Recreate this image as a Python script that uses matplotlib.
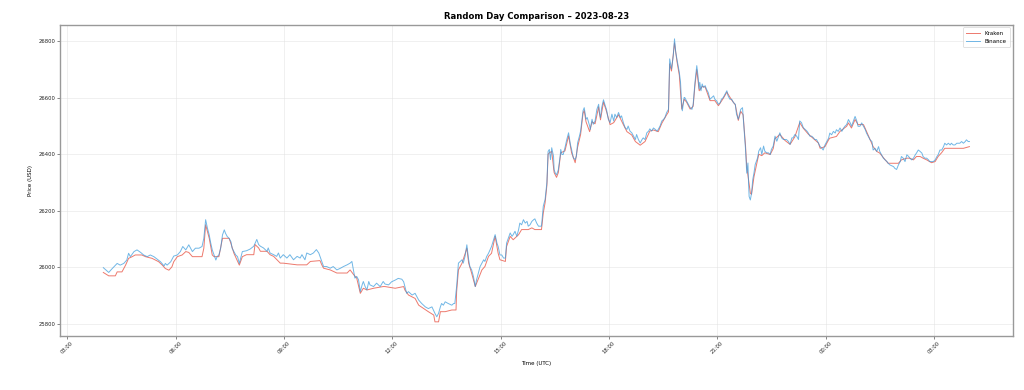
import matplotlib
matplotlib.use("Agg")
import matplotlib.pyplot as plt
import matplotlib.dates as mdates
import pandas as pd

title = "Random Day Comparison \u2013 2023-08-23"
start = "2023-08-23 04:00"
series_names = ["Kraken", "Binance"]

# (minutes after start, price in USD)
binance_points = [
    (0, 25998), (9, 25981), (14, 25993), (23, 26013), (28, 26007), (34, 26013), (39, 26025), (42, 26049),
    (45, 26037), (51, 26055), (56, 26061), (62, 26052), (67, 26043), (73, 26037), (78, 26043), (84, 26037),
    (89, 26029), (95, 26019), (101, 26004), (103, 26013), (106, 26007), (112, 26019), (117, 26039), (123, 26043),
    (128, 26055), (132, 26073), (137, 26061), (142, 26079), (148, 26055), (153, 26067), (159, 26067), (164, 26073),
    (167, 26102), (170, 26168), (173, 26138), (176, 26114), (178, 26090), (181, 26061), (184, 26043), (187, 26025),
    (189, 26037), (192, 26043), (195, 26067), (198, 26114), (201, 26132), (203, 26120), (206, 26108), (209, 26102),
    (212, 26090), (214, 26067), (217, 26055), (220, 26043), (223, 26037), (226, 26013), (231, 26055),
    (238, 26058), (244, 26064), (250, 26074), (255, 26098), (258, 26080), (261, 26074), (266, 26068), (272, 26056),
    (274, 26068), (277, 26050), (283, 26044), (288, 26038), (291, 26050), (294, 26032), (299, 26044), (305, 26032),
    (310, 26044), (316, 26026), (322, 26038), (327, 26032), (330, 26044), (335, 26026), (338, 26050), (344, 26044),
    (349, 26050), (354, 26062), (358, 26050), (360, 26038), (363, 26020), (366, 26002), (371, 26002), (377, 25996),
    (382, 26002), (388, 25990), (394, 25996), (399, 26002), (405, 26008), (410, 26014), (413, 26020), (416, 25985),
    (418, 25961), (421, 25967), (424, 25955), (427, 25913), (430, 25937), (432, 25949), (435, 25931), (438, 25919),
    (441, 25949), (443, 25937), (449, 25931), (454, 25943), (460, 25931), (465, 25949),
    (468, 25940), (474, 25937), (479, 25948), (485, 25954), (490, 25960), (496, 25957), (499, 25948), (501, 25931),
    (504, 25907), (507, 25913), (513, 25901), (518, 25907), (524, 25883), (529, 25871), (535, 25859), (540, 25853),
    (546, 25859), (551, 25836), (554, 25824), (557, 25836), (560, 25859), (562, 25871), (565, 25865), (568, 25877),
    (573, 25871), (579, 25865), (582, 25871), (584, 25871), (587, 25931), (590, 26014), (593, 26020), (596, 26026),
    (598, 26014), (601, 26038), (604, 26079), (607, 26026), (609, 26002), (612, 25990), (615, 25966), (618, 25931),
    (620, 25954), (623, 25978), (626, 26002), (629, 26014), (632, 26026), (634, 26020), (637, 26038), (640, 26049),
    (645, 26073), (651, 26115), (654, 26085), (656, 26073), (659, 26043), (662, 26043), (665, 26032), (668, 26032),
    (670, 26085), (673, 26103), (676, 26121), (679, 26109), (681, 26115), (684, 26127), (687, 26109), (690, 26133),
    (692, 26156), (695, 26150), (698, 26168), (701, 26156), (704, 26162), (706, 26145), (709, 26150), (712, 26162),
    (715, 26168), (717, 26171), (720, 26156), (723, 26145), (726, 26145), (728, 26145), (731, 26216), (734, 26240),
    (737, 26300), (739, 26410),
    (741, 26417), (743, 26381), (745, 26423), (748, 26393), (749, 26345), (751, 26333), (753, 26327), (756, 26345),
    (759, 26393), (760, 26417), (762, 26399), (764, 26399), (767, 26423), (770, 26452), (773, 26476), (776, 26435),
    (778, 26417), (781, 26387), (784, 26381), (786, 26393), (788, 26440), (791, 26464), (793, 26482), (797, 26554),
    (799, 26565), (802, 26524), (804, 26530), (808, 26500), (809, 26488), (812, 26524), (814, 26506), (817, 26518),
    (820, 26559), (823, 26577), (824, 26548), (826, 26530), (828, 26565), (831, 26593), (834, 26571), (836, 26559),
    (839, 26524), (842, 26512), (845, 26542), (848, 26518), (850, 26542), (853, 26530), (856, 26548), (859, 26530),
    (861, 26536), (864, 26512), (867, 26494), (870, 26488), (872, 26500), (875, 26482), (878, 26476), (881, 26464),
    (884, 26452), (886, 26470), (889, 26452), (892, 26440), (895, 26452), (897, 26458), (900, 26452), (903, 26476),
    (906, 26482), (908, 26490), (911, 26482), (914, 26493), (917, 26488), (920, 26482), (922, 26488), (925, 26500),
    (928, 26518), (931, 26524), (933, 26530), (936, 26548), (939, 26559), (941, 26738), (943, 26714), (944, 26702),
    (947, 26750), (949, 26809), (951, 26762), (953, 26738), (954, 26726), (957, 26690), (959, 26655), (961, 26571),
    (962, 26554), (965, 26601),
    (966, 26601), (969, 26589), (972, 26577), (975, 26565), (978, 26559), (980, 26577), (983, 26655), (986, 26714),
    (988, 26678), (990, 26631), (991, 26655), (993, 26625), (995, 26649), (997, 26637), (1000, 26643), (1002, 26631),
    (1005, 26619), (1008, 26595), (1011, 26601), (1014, 26607), (1016, 26595), (1019, 26589), (1022, 26577), (1025, 26583),
    (1027, 26595), (1030, 26601), (1033, 26613), (1036, 26625), (1038, 26607), (1041, 26595), (1044, 26595), (1047, 26583),
    (1050, 26577), (1052, 26542), (1055, 26524), (1057, 26542), (1059, 26559), (1062, 26565), (1063, 26536), (1065, 26476),
    (1067, 26417), (1069, 26333), (1071, 26369), (1072, 26298), (1073, 26250), (1075, 26238), (1077, 26262), (1079, 26310),
    (1081, 26333), (1083, 26363), (1085, 26375), (1087, 26387), (1089, 26411), (1092, 26423), (1094, 26399), (1097, 26429),
    (1099, 26411), (1102, 26405), (1105, 26405), (1108, 26399), (1110, 26417), (1113, 26429), (1116, 26464), (1119, 26446),
    (1122, 26464), (1124, 26476), (1127, 26458), (1130, 26452), (1133, 26452), (1135, 26452), (1138, 26446), (1141, 26435),
    (1144, 26458), (1146, 26458), (1149, 26470), (1152, 26464), (1155, 26452), (1157, 26518), (1160, 26512), (1163, 26494),
    (1166, 26488), (1169, 26482), (1171, 26476), (1174, 26464), (1177, 26464), (1180, 26458), (1182, 26452), (1185, 26452),
    (1188, 26440),
    (1191, 26427), (1194, 26421), (1196, 26415), (1199, 26433), (1202, 26445), (1205, 26457), (1207, 26475), (1210, 26469),
    (1213, 26481), (1216, 26475), (1218, 26487), (1221, 26481), (1224, 26493), (1227, 26481), (1230, 26493), (1232, 26499),
    (1235, 26505), (1238, 26523), (1241, 26511), (1243, 26499), (1246, 26517), (1249, 26534), (1252, 26517), (1254, 26499),
    (1257, 26499), (1260, 26511), (1263, 26499), (1266, 26487), (1268, 26475), (1271, 26463), (1274, 26451), (1277, 26445),
    (1279, 26415), (1282, 26421), (1285, 26410), (1288, 26427), (1290, 26410), (1293, 26398), (1296, 26386), (1299, 26380),
    (1302, 26374), (1304, 26368), (1307, 26362), (1313, 26356), (1315, 26350), (1318, 26346), (1321, 26362), (1324, 26374),
    (1326, 26392), (1329, 26386), (1332, 26374), (1335, 26398), (1338, 26392), (1340, 26386), (1343, 26380), (1346, 26386),
    (1349, 26398), (1351, 26404), (1354, 26415), (1357, 26410), (1360, 26404), (1362, 26392), (1365, 26386), (1368, 26386),
    (1371, 26380), (1373, 26374), (1376, 26374), (1379, 26374), (1382, 26380), (1385, 26392), (1387, 26398), (1390, 26415),
    (1393, 26415), (1396, 26427), (1398, 26439), (1401, 26433), (1404, 26439), (1407, 26433), (1409, 26439), (1412, 26433),
    (1415, 26433), (1418, 26439), (1421, 26439), (1423, 26439), (1426, 26445), (1429, 26439), (1432, 26445), (1434, 26451),
    (1437, 26445), (1439, 26445),
]

kraken_points = [
    (0, 25981), (9, 25969), (20, 25969), (23, 25983), (31, 25983), (37, 26007), (42, 26031), (48, 26037),
    (53, 26043), (64, 26043), (70, 26037), (81, 26031), (92, 26019), (98, 26007), (103, 25995), (109, 25989),
    (114, 26001), (117, 26019), (123, 26037), (131, 26043), (137, 26055), (142, 26052), (148, 26037), (164, 26037),
    (167, 26067), (170, 26150), (176, 26102), (181, 26043), (184, 26037), (192, 26037), (198, 26102), (209, 26102),
    (212, 26084), (217, 26049), (226, 26007), (231, 26037),
    (238, 26044), (250, 26044), (252, 26080), (258, 26068), (261, 26056), (272, 26056), (277, 26044), (283, 26038),
    (294, 26014), (299, 26014), (322, 26008), (338, 26008), (344, 26020), (360, 26023), (363, 26008), (366, 25996),
    (377, 25990), (388, 25979), (405, 25979), (410, 25990), (416, 25973), (421, 25961), (427, 25907), (432, 25925),
    (438, 25919), (449, 25925), (465, 25931),
    (468, 25931), (485, 25925), (499, 25931), (501, 25919), (507, 25901), (518, 25889), (524, 25865), (540, 25842),
    (549, 25830), (551, 25806), (557, 25806), (560, 25842), (568, 25842), (579, 25848), (586, 25848), (587, 25913),
    (590, 25990), (596, 26014), (604, 26067), (607, 26014), (612, 25978), (618, 25931), (629, 25990), (634, 26002),
    (640, 26038), (645, 26049), (651, 26109), (656, 26049), (659, 26026), (668, 26020), (670, 26073), (676, 26109),
    (681, 26097), (690, 26115), (695, 26133), (706, 26133), (712, 26139), (717, 26133), (728, 26133), (731, 26192),
    (734, 26228), (737, 26290), (739, 26400),
    (741, 26405), (745, 26410), (749, 26335), (753, 26318), (756, 26335), (760, 26405), (767, 26412), (773, 26465),
    (778, 26405), (784, 26370), (788, 26425), (793, 26470), (797, 26545), (799, 26555), (802, 26515), (808, 26480),
    (812, 26515), (817, 26508), (823, 26568), (826, 26522), (831, 26585), (836, 26552), (842, 26505), (848, 26512),
    (856, 26540), (864, 26505), (870, 26480), (878, 26468), (884, 26445), (892, 26432), (900, 26445), (908, 26482),
    (914, 26486), (922, 26480), (928, 26510), (936, 26540), (939, 26550), (941, 26720), (944, 26695), (949, 26795),
    (953, 26730), (957, 26680), (961, 26560), (965, 26595),
    (969, 26585), (975, 26560), (980, 26570), (983, 26645), (986, 26700), (990, 26625), (995, 26640), (1000, 26638),
    (1008, 26590), (1016, 26590), (1022, 26572), (1030, 26598), (1036, 26620), (1044, 26592), (1050, 26575), (1055, 26520),
    (1059, 26552), (1063, 26540), (1067, 26430), (1069, 26355), (1072, 26310), (1075, 26262), (1077, 26258), (1081, 26320),
    (1085, 26360), (1089, 26400), (1094, 26395), (1099, 26405), (1108, 26399), (1113, 26420), (1116, 26455), (1124, 26470),
    (1133, 26448), (1141, 26435), (1149, 26462), (1157, 26512), (1163, 26492), (1171, 26472), (1180, 26455), (1188, 26440),
    (1191, 26421), (1199, 26427), (1205, 26451), (1207, 26457), (1218, 26463), (1224, 26481), (1235, 26499), (1238, 26511),
    (1243, 26493), (1249, 26523), (1254, 26505), (1263, 26505), (1268, 26481), (1274, 26451), (1279, 26427), (1285, 26410),
    (1290, 26404), (1299, 26380), (1304, 26368), (1307, 26368), (1321, 26368), (1326, 26380), (1335, 26386), (1340, 26386),
    (1346, 26380), (1351, 26392), (1357, 26392), (1362, 26386), (1368, 26380), (1376, 26370), (1382, 26374), (1387, 26392),
    (1393, 26406), (1398, 26421), (1429, 26421), (1439, 26427),
]

t0 = pd.Timestamp(start)
b_t = [t0 + pd.Timedelta(minutes=m) for m, _ in binance_points]
b_p = [p for _, p in binance_points]
k_t = [t0 + pd.Timedelta(minutes=m) for m, _ in kraken_points]
k_p = [p for _, p in kraken_points]

fig = plt.figure(figsize=(10.24, 3.9), dpi=100)
ax = fig.add_axes([0.0586, 0.1385, 0.9304, 0.7982])

ax.plot(k_t, k_p, color="#e74c3c", alpha=0.75, lw=0.7, label=series_names[0])
ax.plot(b_t, b_p, color="#3498db", alpha=0.7, lw=0.7, label=series_names[1])

ax.set_title(title, fontsize=6.1, fontweight="bold", pad=4)
ax.set_xlabel("Time (UTC)", fontsize=4)
ax.set_ylabel("Price (USD)", fontsize=4)

ax.xaxis.set_major_locator(mdates.HourLocator(byhour=range(0, 24, 3)))
ax.xaxis.set_major_formatter(mdates.DateFormatter("%H:%M"))
ax.tick_params(axis="both", labelsize=3.8, length=2, width=0.5, colors="#555555", labelcolor="#222222", pad=1.5)
for lab in ax.get_xticklabels():
    lab.set_rotation(45)
ax.grid(True, color="#dddddd", lw=0.5, alpha=0.6)
for s in ax.spines.values():
    s.set_color("#999999")
    s.set_linewidth(1.0)

leg = ax.legend(loc="upper right", fontsize=4, frameon=True, borderpad=0.6, handlelength=2.5)
leg.get_frame().set_linewidth(0.5)

fig.savefig("out.png", dpi=100)
